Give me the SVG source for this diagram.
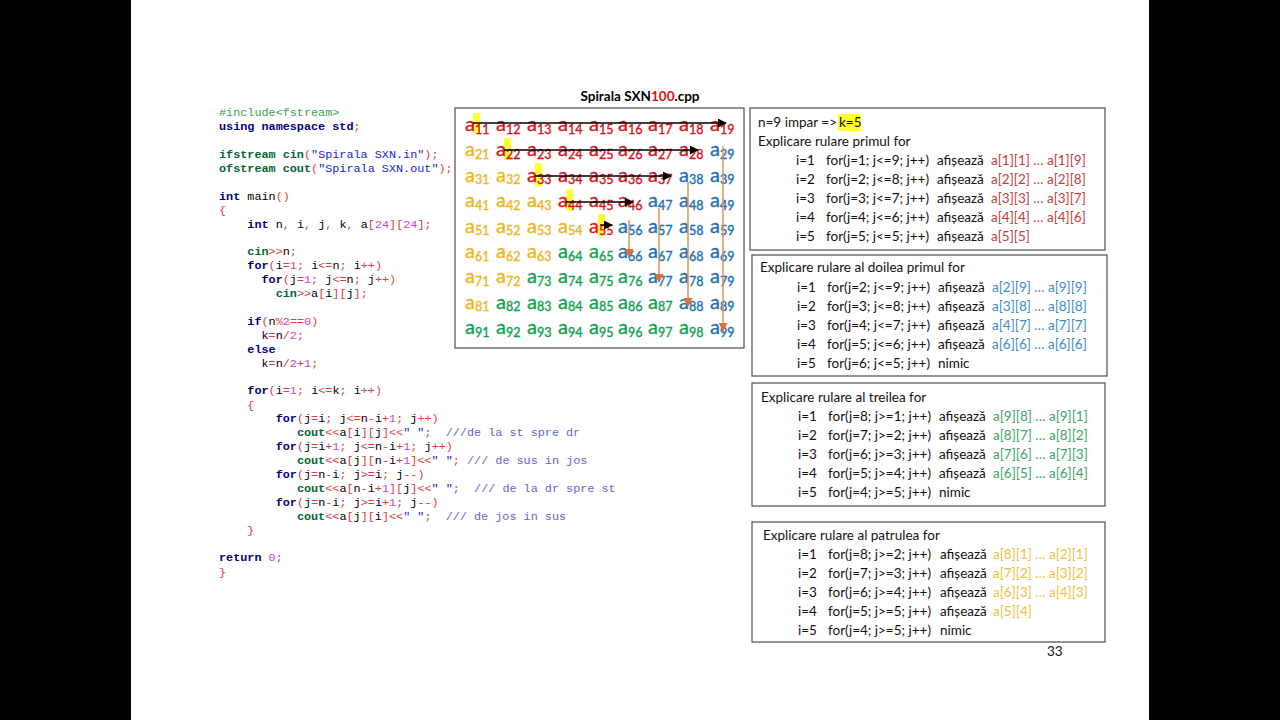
<svg xmlns="http://www.w3.org/2000/svg" width="1280" height="720" viewBox="0 0 1280 720">
<style>
.code text{font-family:"Liberation Mono","Courier New",monospace;font-size:11.8px;fill:#000;white-space:pre}
.k{fill:#000080;font-weight:bold}
.o{fill:#e03a3a}
.n{fill:#d040c8}
.s{fill:#1c1cd0}
.g{fill:#006633;font-weight:bold}
.p{fill:#3aa050}
.c{fill:#6464d4}
.cell{font-family:Lato,"Liberation Sans",sans-serif;font-size:20px;stroke-width:0.35}
.sub{font-size:12.5px}
.R{fill:#d4141e;stroke:#d4141e}.Y{fill:#f0b41e;stroke:#f0b41e}.B{fill:#1a6fb5;stroke:#1a6fb5}.G{fill:#12a050;stroke:#12a050}
.ptxt{font-family:Lato,"Liberation Sans",sans-serif;font-size:13.5px;fill:#111}
.pr{fill:#c83c3c}.pb{fill:#3a8cc8}.pg{fill:#3aa66a}.py{fill:#f0bf3a}
.box{fill:#fff;stroke:#5a5a5a;stroke-width:1.3}
.hl{fill:#ffff33}
.blk{stroke:#000;stroke-width:1.3;fill:none}
.org{stroke:#e0905a;stroke-width:1.5;fill:none}
</style>
<defs>
<marker id="ab" viewBox="0 0 10 10" refX="9" refY="5" markerWidth="9" markerHeight="9" markerUnits="userSpaceOnUse" orient="auto"><path d="M0,0 L10,5 L0,10 z" fill="#000"/></marker>
<marker id="ao" viewBox="0 0 10 10" refX="9" refY="5" markerWidth="9" markerHeight="9" markerUnits="userSpaceOnUse" orient="auto"><path d="M0,0 L10,5 L0,10 z" fill="#e07030"/></marker>
</defs>
<rect x="0" y="0" width="1280" height="720" fill="#000"/>
<rect x="131" y="0" width="1018" height="720" fill="#fff"/>

<g id="code" class="code">
<text x="219" y="116" xml:space="preserve"><tspan class="p">#include&lt;fstream&gt;</tspan></text>
<text x="219" y="130" xml:space="preserve"><tspan class="k">using namespace std</tspan><tspan class="o">;</tspan></text>
<text x="219" y="158" xml:space="preserve"><tspan class="g">ifstream cin</tspan><tspan class="o">(</tspan><tspan class="s">"Spirala SXN.in"</tspan><tspan class="o">);</tspan></text>
<text x="219" y="172" xml:space="preserve"><tspan class="g">ofstream cout</tspan><tspan class="o">(</tspan><tspan class="s">"Spirala SXN.out"</tspan><tspan class="o">);</tspan></text>
<text x="219" y="200" xml:space="preserve"><tspan class="k">int</tspan> main<tspan class="o">()</tspan></text>
<text x="219" y="214" xml:space="preserve"><tspan class="o">{</tspan></text>
<text x="219" y="228" xml:space="preserve">    <tspan class="k">int</tspan> n<tspan class="o">,</tspan> i<tspan class="o">,</tspan> j<tspan class="o">,</tspan> k<tspan class="o">,</tspan> a<tspan class="o">[</tspan><tspan class="n">24</tspan><tspan class="o">][</tspan><tspan class="n">24</tspan><tspan class="o">];</tspan></text>
<text x="219" y="255" xml:space="preserve">    <tspan class="g">cin</tspan><tspan class="o">&gt;&gt;</tspan>n<tspan class="o">;</tspan></text>
<text x="219" y="269" xml:space="preserve">    <tspan class="k">for</tspan><tspan class="o">(</tspan>i<tspan class="o">=</tspan><tspan class="n">1</tspan><tspan class="o">;</tspan> i<tspan class="o">&lt;=</tspan>n<tspan class="o">;</tspan> i<tspan class="o">++)</tspan></text>
<text x="219" y="283" xml:space="preserve">      <tspan class="k">for</tspan><tspan class="o">(</tspan>j<tspan class="o">=</tspan><tspan class="n">1</tspan><tspan class="o">;</tspan> j<tspan class="o">&lt;=</tspan>n<tspan class="o">;</tspan> j<tspan class="o">++)</tspan></text>
<text x="219" y="297" xml:space="preserve">        <tspan class="g">cin</tspan><tspan class="o">&gt;&gt;</tspan>a<tspan class="o">[</tspan>i<tspan class="o">][</tspan>j<tspan class="o">];</tspan></text>
<text x="219" y="325" xml:space="preserve">    <tspan class="k">if</tspan><tspan class="o">(</tspan>n<tspan class="o">%</tspan><tspan class="n">2</tspan><tspan class="o">==</tspan><tspan class="n">0</tspan><tspan class="o">)</tspan></text>
<text x="219" y="339" xml:space="preserve">      k<tspan class="o">=</tspan>n<tspan class="o">/</tspan><tspan class="n">2</tspan><tspan class="o">;</tspan></text>
<text x="219" y="353" xml:space="preserve">    <tspan class="k">else</tspan></text>
<text x="219" y="367" xml:space="preserve">      k<tspan class="o">=</tspan>n<tspan class="o">/</tspan><tspan class="n">2</tspan><tspan class="o">+</tspan><tspan class="n">1</tspan><tspan class="o">;</tspan></text>
<text x="219" y="394" xml:space="preserve">    <tspan class="k">for</tspan><tspan class="o">(</tspan>i<tspan class="o">=</tspan><tspan class="n">1</tspan><tspan class="o">;</tspan> i<tspan class="o">&lt;=</tspan>k<tspan class="o">;</tspan> i<tspan class="o">++)</tspan></text>
<text x="219" y="409" xml:space="preserve">    <tspan class="o">{</tspan></text>
<text x="219" y="422" xml:space="preserve">        <tspan class="k">for</tspan><tspan class="o">(</tspan>j<tspan class="o">=</tspan>i<tspan class="o">;</tspan> j<tspan class="o">&lt;=</tspan>n<tspan class="o">-</tspan>i<tspan class="o">+</tspan><tspan class="n">1</tspan><tspan class="o">;</tspan> j<tspan class="o">++)</tspan></text>
<text x="219" y="436" xml:space="preserve">           <tspan class="g">cout</tspan><tspan class="o">&lt;&lt;</tspan>a<tspan class="o">[</tspan>i<tspan class="o">][</tspan>j<tspan class="o">]&lt;&lt;</tspan><tspan class="s">" "</tspan><tspan class="o">;</tspan>  <tspan class="c">///de la st spre dr</tspan></text>
<text x="219" y="450" xml:space="preserve">        <tspan class="k">for</tspan><tspan class="o">(</tspan>j<tspan class="o">=</tspan>i<tspan class="o">+</tspan><tspan class="n">1</tspan><tspan class="o">;</tspan> j<tspan class="o">&lt;=</tspan>n<tspan class="o">-</tspan>i<tspan class="o">+</tspan><tspan class="n">1</tspan><tspan class="o">;</tspan> j<tspan class="o">++)</tspan></text>
<text x="219" y="464" xml:space="preserve">           <tspan class="g">cout</tspan><tspan class="o">&lt;&lt;</tspan>a<tspan class="o">[</tspan>j<tspan class="o">][</tspan>n<tspan class="o">-</tspan>i<tspan class="o">+</tspan><tspan class="n">1</tspan><tspan class="o">]&lt;&lt;</tspan><tspan class="s">" "</tspan><tspan class="o">;</tspan> <tspan class="c">/// de sus in jos</tspan></text>
<text x="219" y="478" xml:space="preserve">        <tspan class="k">for</tspan><tspan class="o">(</tspan>j<tspan class="o">=</tspan>n<tspan class="o">-</tspan>i<tspan class="o">;</tspan> j<tspan class="o">&gt;=</tspan>i<tspan class="o">;</tspan> j<tspan class="o">--)</tspan></text>
<text x="219" y="492" xml:space="preserve">           <tspan class="g">cout</tspan><tspan class="o">&lt;&lt;</tspan>a<tspan class="o">[</tspan>n<tspan class="o">-</tspan>i<tspan class="o">+</tspan><tspan class="n">1</tspan><tspan class="o">][</tspan>j<tspan class="o">]&lt;&lt;</tspan><tspan class="s">" "</tspan><tspan class="o">;</tspan>  <tspan class="c">/// de la dr spre st</tspan></text>
<text x="219" y="506" xml:space="preserve">        <tspan class="k">for</tspan><tspan class="o">(</tspan>j<tspan class="o">=</tspan>n<tspan class="o">-</tspan>i<tspan class="o">;</tspan> j<tspan class="o">&gt;=</tspan>i<tspan class="o">+</tspan><tspan class="n">1</tspan><tspan class="o">;</tspan> j<tspan class="o">--)</tspan></text>
<text x="219" y="520" xml:space="preserve">           <tspan class="g">cout</tspan><tspan class="o">&lt;&lt;</tspan>a<tspan class="o">[</tspan>j<tspan class="o">][</tspan>i<tspan class="o">]&lt;&lt;</tspan><tspan class="s">" "</tspan><tspan class="o">;</tspan>  <tspan class="c">/// de jos in sus</tspan></text>
<text x="219" y="534" xml:space="preserve">    <tspan class="o">}</tspan></text>
<text x="219" y="561" xml:space="preserve"><tspan class="k">return</tspan> <tspan class="n">0</tspan><tspan class="o">;</tspan></text>
<text x="219" y="576" xml:space="preserve"><tspan class="o">}</tspan></text>
</g>

<g id="title">
<text x="640" y="101" text-anchor="middle" font-family="Lato,'Liberation Sans',sans-serif" font-size="13.5" font-weight="bold" fill="#000">Spirala SXN<tspan fill="#e01010">100</tspan>.cpp</text>
</g>

<g id="matrix">
<rect class="box" x="455" y="108" width="289" height="240"/>
<rect class="hl" x="473" y="113" width="7" height="20"/>
<rect class="hl" x="504" y="138" width="7" height="22"/>
<rect class="hl" x="535" y="163" width="7" height="23"/>
<rect class="hl" x="566" y="189" width="7" height="22"/>
<rect class="hl" x="598" y="214" width="7" height="22"/>
<g class="cell">
<text class="R" x="465" y="131">a<tspan class="sub" dy="2.5">11</tspan></text>
<text class="R" x="496" y="131">a<tspan class="sub" dy="2.5">12</tspan></text>
<text class="R" x="527" y="131">a<tspan class="sub" dy="2.5">13</tspan></text>
<text class="R" x="558" y="131">a<tspan class="sub" dy="2.5">14</tspan></text>
<text class="R" x="589" y="131">a<tspan class="sub" dy="2.5">15</tspan></text>
<text class="R" x="618" y="131">a<tspan class="sub" dy="2.5">16</tspan></text>
<text class="R" x="648" y="131">a<tspan class="sub" dy="2.5">17</tspan></text>
<text class="R" x="679" y="131">a<tspan class="sub" dy="2.5">18</tspan></text>
<text class="R" x="710" y="131">a<tspan class="sub" dy="2.5">19</tspan></text>

<text class="Y" x="465" y="156.4">a<tspan class="sub" dy="2.5">21</tspan></text>
<text class="R" x="496" y="156.4">a<tspan class="sub" dy="2.5">22</tspan></text>
<text class="R" x="527" y="156.4">a<tspan class="sub" dy="2.5">23</tspan></text>
<text class="R" x="558" y="156.4">a<tspan class="sub" dy="2.5">24</tspan></text>
<text class="R" x="589" y="156.4">a<tspan class="sub" dy="2.5">25</tspan></text>
<text class="R" x="618" y="156.4">a<tspan class="sub" dy="2.5">26</tspan></text>
<text class="R" x="648" y="156.4">a<tspan class="sub" dy="2.5">27</tspan></text>
<text class="R" x="679" y="156.4">a<tspan class="sub" dy="2.5">28</tspan></text>
<text class="B" x="710" y="156.4">a<tspan class="sub" dy="2.5">29</tspan></text>

<text class="Y" x="465" y="181.8">a<tspan class="sub" dy="2.5">31</tspan></text>
<text class="Y" x="496" y="181.8">a<tspan class="sub" dy="2.5">32</tspan></text>
<text class="R" x="527" y="181.8">a<tspan class="sub" dy="2.5">33</tspan></text>
<text class="R" x="558" y="181.8">a<tspan class="sub" dy="2.5">34</tspan></text>
<text class="R" x="589" y="181.8">a<tspan class="sub" dy="2.5">35</tspan></text>
<text class="R" x="618" y="181.8">a<tspan class="sub" dy="2.5">36</tspan></text>
<text class="R" x="648" y="181.8">a<tspan class="sub" dy="2.5">37</tspan></text>
<text class="B" x="679" y="181.8">a<tspan class="sub" dy="2.5">38</tspan></text>
<text class="B" x="710" y="181.8">a<tspan class="sub" dy="2.5">39</tspan></text>

<text class="Y" x="465" y="207.2">a<tspan class="sub" dy="2.5">41</tspan></text>
<text class="Y" x="496" y="207.2">a<tspan class="sub" dy="2.5">42</tspan></text>
<text class="Y" x="527" y="207.2">a<tspan class="sub" dy="2.5">43</tspan></text>
<text class="R" x="558" y="207.2">a<tspan class="sub" dy="2.5">44</tspan></text>
<text class="R" x="589" y="207.2">a<tspan class="sub" dy="2.5">45</tspan></text>
<text class="R" x="618" y="207.2">a<tspan class="sub" dy="2.5">46</tspan></text>
<text class="B" x="648" y="207.2">a<tspan class="sub" dy="2.5">47</tspan></text>
<text class="B" x="679" y="207.2">a<tspan class="sub" dy="2.5">48</tspan></text>
<text class="B" x="710" y="207.2">a<tspan class="sub" dy="2.5">49</tspan></text>

<text class="Y" x="465" y="232.6">a<tspan class="sub" dy="2.5">51</tspan></text>
<text class="Y" x="496" y="232.6">a<tspan class="sub" dy="2.5">52</tspan></text>
<text class="Y" x="527" y="232.6">a<tspan class="sub" dy="2.5">53</tspan></text>
<text class="Y" x="558" y="232.6">a<tspan class="sub" dy="2.5">54</tspan></text>
<text class="R" x="589" y="232.6" style="fill:#ee1111;stroke:#ee1111">a<tspan class="sub" dy="2.5">55</tspan></text>
<text class="B" x="618" y="232.6">a<tspan class="sub" dy="2.5">56</tspan></text>
<text class="B" x="648" y="232.6">a<tspan class="sub" dy="2.5">57</tspan></text>
<text class="B" x="679" y="232.6">a<tspan class="sub" dy="2.5">58</tspan></text>
<text class="B" x="710" y="232.6">a<tspan class="sub" dy="2.5">59</tspan></text>

<text class="Y" x="465" y="258">a<tspan class="sub" dy="2.5">61</tspan></text>
<text class="Y" x="496" y="258">a<tspan class="sub" dy="2.5">62</tspan></text>
<text class="Y" x="527" y="258">a<tspan class="sub" dy="2.5">63</tspan></text>
<text class="G" x="558" y="258">a<tspan class="sub" dy="2.5">64</tspan></text>
<text class="G" x="589" y="258">a<tspan class="sub" dy="2.5">65</tspan></text>
<text class="B" x="618" y="258">a<tspan class="sub" dy="2.5">66</tspan></text>
<text class="B" x="648" y="258">a<tspan class="sub" dy="2.5">67</tspan></text>
<text class="B" x="679" y="258">a<tspan class="sub" dy="2.5">68</tspan></text>
<text class="B" x="710" y="258">a<tspan class="sub" dy="2.5">69</tspan></text>

<text class="Y" x="465" y="283.4">a<tspan class="sub" dy="2.5">71</tspan></text>
<text class="Y" x="496" y="283.4">a<tspan class="sub" dy="2.5">72</tspan></text>
<text class="G" x="527" y="283.4">a<tspan class="sub" dy="2.5">73</tspan></text>
<text class="G" x="558" y="283.4">a<tspan class="sub" dy="2.5">74</tspan></text>
<text class="G" x="589" y="283.4">a<tspan class="sub" dy="2.5">75</tspan></text>
<text class="G" x="618" y="283.4">a<tspan class="sub" dy="2.5">76</tspan></text>
<text class="B" x="648" y="283.4">a<tspan class="sub" dy="2.5">77</tspan></text>
<text class="B" x="679" y="283.4">a<tspan class="sub" dy="2.5">78</tspan></text>
<text class="B" x="710" y="283.4">a<tspan class="sub" dy="2.5">79</tspan></text>

<text class="Y" x="465" y="308.8">a<tspan class="sub" dy="2.5">81</tspan></text>
<text class="G" x="496" y="308.8">a<tspan class="sub" dy="2.5">82</tspan></text>
<text class="G" x="527" y="308.8">a<tspan class="sub" dy="2.5">83</tspan></text>
<text class="G" x="558" y="308.8">a<tspan class="sub" dy="2.5">84</tspan></text>
<text class="G" x="589" y="308.8">a<tspan class="sub" dy="2.5">85</tspan></text>
<text class="G" x="618" y="308.8">a<tspan class="sub" dy="2.5">86</tspan></text>
<text class="G" x="648" y="308.8">a<tspan class="sub" dy="2.5">87</tspan></text>
<text class="B" x="679" y="308.8">a<tspan class="sub" dy="2.5">88</tspan></text>
<text class="B" x="710" y="308.8">a<tspan class="sub" dy="2.5">89</tspan></text>

<text class="G" x="465" y="334.2">a<tspan class="sub" dy="2.5">91</tspan></text>
<text class="G" x="496" y="334.2">a<tspan class="sub" dy="2.5">92</tspan></text>
<text class="G" x="527" y="334.2">a<tspan class="sub" dy="2.5">93</tspan></text>
<text class="G" x="558" y="334.2">a<tspan class="sub" dy="2.5">94</tspan></text>
<text class="G" x="589" y="334.2">a<tspan class="sub" dy="2.5">95</tspan></text>
<text class="G" x="618" y="334.2">a<tspan class="sub" dy="2.5">96</tspan></text>
<text class="G" x="648" y="334.2">a<tspan class="sub" dy="2.5">97</tspan></text>
<text class="G" x="679" y="334.2">a<tspan class="sub" dy="2.5">98</tspan></text>
<text class="B" x="710" y="334.2">a<tspan class="sub" dy="2.5">99</tspan></text>
</g>
</g>

<g id="connectors">
<line class="blk" x1="473" y1="123" x2="726" y2="123" marker-end="url(#ab)"/>
<line class="blk" x1="504" y1="150" x2="698" y2="150" marker-end="url(#ab)"/>
<line class="blk" x1="535" y1="176" x2="671" y2="176" marker-end="url(#ab)"/>
<line class="blk" x1="566" y1="202" x2="633" y2="202" marker-end="url(#ab)"/>
<line class="blk" x1="600" y1="225" x2="612" y2="225" marker-end="url(#ab)"/>
<line class="org" x1="723" y1="146" x2="723" y2="331" marker-end="url(#ao)"/>
<line class="org" x1="688" y1="182" x2="688" y2="306" marker-end="url(#ao)"/>
<line class="org" x1="659" y1="208" x2="659" y2="282" marker-end="url(#ao)"/>
<line class="org" x1="629" y1="220" x2="629" y2="257" marker-end="url(#ao)"/>
</g>

<g id="panel1" class="ptxt">
<rect class="box" x="750" y="108" width="355" height="142"/>
<rect class="hl" x="838" y="114" width="23" height="17"/>
<text x="758" y="127">n=9 impar =&gt; </text>
<text x="839" y="127">k=5</text>
<text x="758" y="146">Explicare rulare primul for</text>
<text x="796" y="164.5">i=1</text><text x="826" y="164.5">for(j=1; j&lt;=9; j++)</text><text x="937" y="164.5">afișează</text><text class="pr" x="991" y="164.5">a[1][1] … a[1][9]</text>
<text x="796" y="183.5">i=2</text><text x="826" y="183.5">for(j=2; j&lt;=8; j++)</text><text x="937" y="183.5">afișează</text><text class="pr" x="991" y="183.5">a[2][2] … a[2][8]</text>
<text x="796" y="202.5">i=3</text><text x="826" y="202.5">for(j=3; j&lt;=7; j++)</text><text x="937" y="202.5">afișează</text><text class="pr" x="991" y="202.5">a[3][3] … a[3][7]</text>
<text x="796" y="221.5">i=4</text><text x="826" y="221.5">for(j=4; j&lt;=6; j++)</text><text x="937" y="221.5">afișează</text><text class="pr" x="991" y="221.5">a[4][4] … a[4][6]</text>
<text x="796" y="240.5">i=5</text><text x="826" y="240.5">for(j=5; j&lt;=5; j++)</text><text x="937" y="240.5">afișează</text><text class="pr" x="991" y="240.5">a[5][5]</text>
</g>

<g id="panel2" class="ptxt">
<rect class="box" x="752" y="255" width="355" height="121"/>
<text x="760" y="272">Explicare rulare al doilea primul for</text>
<text x="797" y="291.5">i=1</text><text x="827" y="291.5">for(j=2; j&lt;=9; j++)</text><text x="938" y="291.5">afișează</text><text class="pb" x="992" y="291.5">a[2][9] … a[9][9]</text>
<text x="797" y="310.5">i=2</text><text x="827" y="310.5">for(j=3; j&lt;=8; j++)</text><text x="938" y="310.5">afișează</text><text class="pb" x="992" y="310.5">a[3][8] … a[8][8]</text>
<text x="797" y="329.5">i=3</text><text x="827" y="329.5">for(j=4; j&lt;=7; j++)</text><text x="938" y="329.5">afișează</text><text class="pb" x="992" y="329.5">a[4][7] … a[7][7]</text>
<text x="797" y="348.5">i=4</text><text x="827" y="348.5">for(j=5; j&lt;=6; j++)</text><text x="938" y="348.5">afișează</text><text class="pb" x="992" y="348.5">a[6][6] … a[6][6]</text>
<text x="797" y="367.5">i=5</text><text x="827" y="367.5">for(j=6; j&lt;=5; j++)</text><text x="938" y="367.5">nimic</text>
</g>

<g id="panel3" class="ptxt">
<rect class="box" x="752" y="383" width="353" height="123"/>
<text x="761" y="402">Explicare rulare al treilea for</text>
<text x="798" y="420.5">i=1</text><text x="828" y="420.5">for(j=8; j&gt;=1; j++)</text><text x="939" y="420.5">afișează</text><text class="pg" x="993" y="420.5">a[9][8] … a[9][1]</text>
<text x="798" y="439.5">i=2</text><text x="828" y="439.5">for(j=7; j&gt;=2; j++)</text><text x="939" y="439.5">afișează</text><text class="pg" x="993" y="439.5">a[8][7] … a[8][2]</text>
<text x="798" y="458.5">i=3</text><text x="828" y="458.5">for(j=6; j&gt;=3; j++)</text><text x="939" y="458.5">afișează</text><text class="pg" x="993" y="458.5">a[7][6] … a[7][3]</text>
<text x="798" y="477.5">i=4</text><text x="828" y="477.5">for(j=5; j&gt;=4; j++)</text><text x="939" y="477.5">afișează</text><text class="pg" x="993" y="477.5">a[6][5] … a[6][4]</text>
<text x="798" y="496.5">i=5</text><text x="828" y="496.5">for(j=4; j&gt;=5; j++)</text><text x="939" y="496.5">nimic</text>
</g>

<g id="panel4" class="ptxt">
<rect class="box" x="752" y="522" width="353" height="120"/>
<text x="763" y="540">Explicare rulare al patrulea for</text>
<text x="798" y="558.5">i=1</text><text x="828" y="558.5">for(j=8; j&gt;=2; j++)</text><text x="940" y="558.5">afișează</text><text class="py" x="993" y="558.5">a[8][1] … a[2][1]</text>
<text x="798" y="577.5">i=2</text><text x="828" y="577.5">for(j=7; j&gt;=3; j++)</text><text x="940" y="577.5">afișează</text><text class="py" x="993" y="577.5">a[7][2] … a[3][2]</text>
<text x="798" y="596.5">i=3</text><text x="828" y="596.5">for(j=6; j&gt;=4; j++)</text><text x="940" y="596.5">afișează</text><text class="py" x="993" y="596.5">a[6][3] … a[4][3]</text>
<text x="798" y="615.5">i=4</text><text x="828" y="615.5">for(j=5; j&gt;=5; j++)</text><text x="940" y="615.5">afișează</text><text class="py" x="993" y="615.5">a[5][4]</text>
<text x="798" y="634.5">i=5</text><text x="828" y="634.5">for(j=4; j&gt;=5; j++)</text><text x="940" y="634.5">nimic</text>
</g>

<g id="pagenum">
<text x="1047" y="656" font-family="Lato,'Liberation Sans',sans-serif" font-size="13.5" fill="#111">33</text>
</g>
</svg>
